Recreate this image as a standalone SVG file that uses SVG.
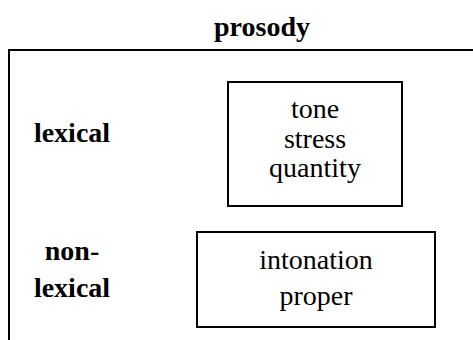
<svg xmlns="http://www.w3.org/2000/svg" width="473" height="340" viewBox="0 0 473 340">
<style>
.box{fill:#fff;stroke:#000;stroke-width:2}
.lbl{font-family:"Liberation Serif",serif;font-weight:bold;font-size:28px;text-anchor:middle;fill:#000}
.txt{font-family:"Liberation Serif",serif;font-size:28px;text-anchor:middle;fill:#000}
</style>
<rect width="473" height="340" fill="#fff"/>
<g id="prosody">
<path d="M9,340 V50 H474" fill="none" stroke="#000" stroke-width="2"/>
<text class="lbl" x="262" y="36">prosody</text>
</g>
<g id="lexical-label">
<text class="lbl" x="72" y="142">lexical</text>
</g>
<g id="nonlexical-label">
<text class="lbl" x="72" y="260">non-</text>
<text class="lbl" x="72" y="297">lexical</text>
</g>
<g id="lexical-box">
<rect class="box" x="228" y="82" width="174" height="124"/>
<text class="txt" x="315" y="118">tone</text>
<text class="txt" x="315" y="148">stress</text>
<text class="txt" x="315" y="177">quantity</text>
</g>
<g id="nonlexical-box">
<rect class="box" x="197" y="232" width="238" height="95"/>
<text class="txt" x="316" y="269">intonation</text>
<text class="txt" x="316" y="305">proper</text>
</g>
<g id="connectors"></g>
</svg>
